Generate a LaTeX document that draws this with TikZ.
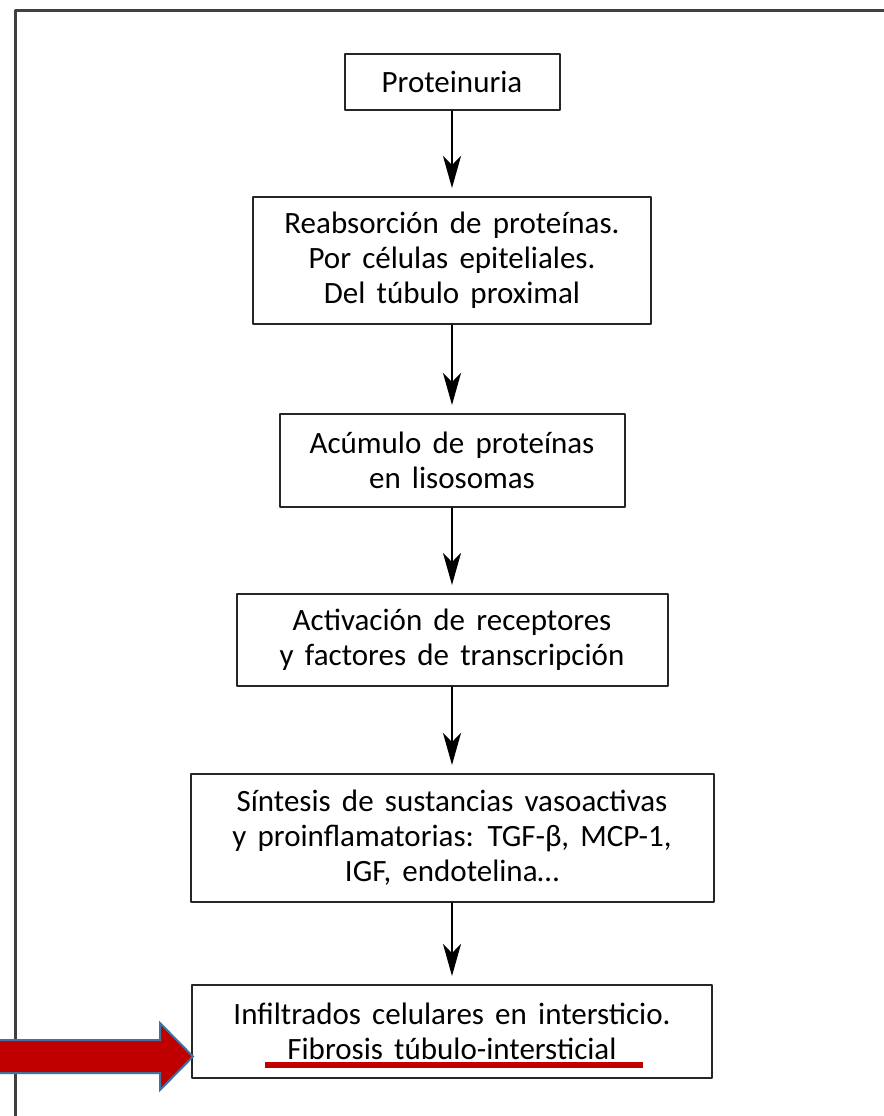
\documentclass[tikz,border=0pt]{standalone}
\usepackage{fontspec}
\setmainfont{Carlito}[WordSpace=1.6]
\usetikzlibrary{arrows.meta}

\definecolor{darkred}{RGB}{192,0,0}
\definecolor{steelblue}{RGB}{65,113,156}
\definecolor{framegray}{RGB}{64,64,64}

\begin{document}
\begin{tikzpicture}[
			x=0.5pt, y=-0.5pt,
			line cap=round, line join=round,
			box/.style={draw=black!85, line width=1pt, inner sep=0pt, align=center, font=\fontsize{15.5}{17.5}\selectfont},
			link/.style={draw=black, line width=0.8pt, shorten >=4pt, -{Stealth[length=16pt, width=9pt, inset=4.5pt]}},
			pageframe/.style={draw=framegray, line width=1.5pt, line cap=butt},
			redarrow/.style={fill=darkred, draw=steelblue, line width=1pt, line join=miter},
			redline/.style={draw=darkred, line width=3pt, line cap=butt}
			]
			
			\useasboundingbox (0,0) rectangle (884,1116);
			\draw[pageframe] (15,1116) -- (15,10) -- (884,10);
			
			\node[box, minimum width=107.5pt, minimum height=28pt] (prot) at (452,82) {Proteinuria};
			\node[box, minimum width=199pt, minimum height=63.5pt] (reab) at (452,260.5) {Reabsorción de proteínas.\\Por células epiteliales.\\Del túbulo proximal};
			\node[box, minimum width=172.5pt, minimum height=46.5pt] (acum) at (452,460.5) {Acúmulo de proteínas\\en lisosomas};
			\node[box, minimum width=215.5pt, minimum height=46pt] (activ) at (452,640) {Activación de receptores\\y factores de transcripción};
			\node[box, minimum width=261.5pt, minimum height=64pt] (sint) at (452,838) {Síntesis de sustancias vasoactivas\\y proinflamatorias: TGF-β, MCP-1,\\IGF, endotelina…};
			\node[box, minimum width=260pt, minimum height=46.5pt] (infil) at (452,1031.5) {Infiltrados celulares en intersticio.\\Fibrosis túbulo-intersticial};
			
			\draw[link] (prot.south) -- (reab.north);
			\draw[link] (reab.south) -- (acum.north);
			\draw[link] (acum.south) -- (activ.north);
			\draw[link] (activ.south) -- (sint.north);
			\draw[link] (sint.south) -- (infil.north);
			
			\draw[redline] (265,1065) -- (643,1065);
			\draw[redarrow] (-10,1040) -- (160,1040) -- (160,1023) -- (193,1056.5) -- (160,1090) -- (160,1073) -- (-10,1073) -- cycle;
		\end{tikzpicture}
\end{document}
